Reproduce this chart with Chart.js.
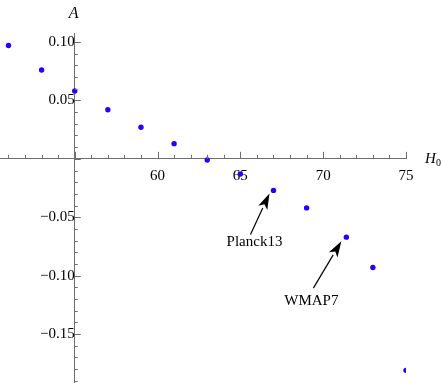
<!DOCTYPE html>
<html>
<head>
<meta charset="utf-8">
<script src="https://cdn.jsdelivr.net/npm/chart.js@4"></script>
<style>
  html, body { margin: 0; padding: 0; background: #fff; overflow: hidden; }
  #wrap { width: 441px; height: 383px; position: relative; overflow: hidden; }
  /* slightly larger than the window so the axes run to the edges like the original */
  #inner { position: absolute; left: -3px; top: 0; width: 444px; height: 397px; }
</style>
</head>
<body>
<div id="wrap"><div id="inner"><canvas id="myChart"></canvas></div></div>
<script>
    // values
    const h0Values = [51, 53, 55, 57, 59, 61, 63, 65, 67, 69, 71.4, 73, 75];
    const aValues = [0.097, 0.076, 0.058, 0.042, 0.027, 0.013, -0.001, -0.013, -0.027, -0.042, -0.067, -0.093, -0.181];
    const xTickLabels = [60, 65, 70, 75];
    const yTickLabels = [0.10, 0.05, -0.05, -0.10, -0.15];
    // annotated points (index into the arrays above)
    const notes = [
        { text: 'Planck13', index: 8 },
        { text: 'WMAP7', index: 10 }
    ];

    const points = h0Values.map((h, i) => ({ x: h, y: aValues[i] }));
    const axisColor = 'rgb(110,110,110)';
    const serif = '"Liberation Serif", "DejaVu Serif", serif';

    const fmt = (v) => {
        const s = Math.abs(v).toFixed(2);
        return v < 0 ? '\u2212' + s : s;
    };

    // Mathematica style tick marks, arrows, axis names
    const extras = {
        id: 'extras',
        afterDraw(chart) {
            const c = chart.ctx;
            const xs = chart.scales.x, ys = chart.scales.y;
            const x0 = xs.getPixelForValue(55), y0 = ys.getPixelForValue(0);
            c.save();
            c.strokeStyle = axisColor;
            c.lineWidth = 1;
            c.beginPath();
            for (let v = Math.ceil(xs.min); v <= Math.floor(xs.max); v++) {
                const px = Math.round(xs.getPixelForValue(v)) + 0.5;
                const len = v % 5 === 0 ? 7 : 4;
                c.moveTo(px, y0);
                c.lineTo(px, y0 - len);
            }
            for (let k = Math.ceil(ys.min * 100); k <= Math.floor(ys.max * 100); k++) {
                const py = Math.round(ys.getPixelForValue(k / 100)) + 0.5;
                const len = k % 5 === 0 ? 6 : 3;
                c.moveTo(x0, py);
                c.lineTo(x0 + len, py);
            }
            c.stroke();

            // axis names
            c.fillStyle = '#000';
            c.font = 'italic 16px ' + serif;
            c.textAlign = 'center';
            c.textBaseline = 'middle';
            c.fillText('A', x0 - 1, 14);
            c.textAlign = 'left';
            c.font = 'italic 15px ' + serif;
            c.fillText('H', xs.right + 19, y0);
            c.font = '10px ' + serif;
            c.fillText('0', xs.right + 30, y0 + 5);

            // arrows + labels
            const offs = [
                { lx: -19, ly: 52, tx: -4, ty: 3, sx: -23, sy: 44 },
                { lx: -35, ly: 64, tx: -5, ty: 4, sx: -33, sy: 51 }
            ];
            c.font = '15px ' + serif;
            c.textAlign = 'center';
            c.textBaseline = 'middle';
            notes.forEach((n, i) => {
                const px = xs.getPixelForValue(h0Values[n.index]);
                const py = ys.getPixelForValue(aValues[n.index]);
                const o = offs[i];
                const tipX = px + o.tx, tipY = py + o.ty;
                const tailX = px + o.sx, tailY = py + o.sy;
                const ang = Math.atan2(tipY - tailY, tipX - tailX);
                const hl = 16, hw = 5;
                const bx = tipX - hl * Math.cos(ang), by = tipY - hl * Math.sin(ang);
                c.strokeStyle = '#000';
                c.lineWidth = 1.2;
                c.beginPath();
                c.moveTo(tailX, tailY);
                c.lineTo(bx, by);
                c.stroke();
                c.fillStyle = '#000';
                c.beginPath();
                c.moveTo(tipX, tipY);
                c.lineTo(bx + hw * Math.sin(ang), by - hw * Math.cos(ang));
                c.lineTo(tipX - (hl - 4) * Math.cos(ang), tipY - (hl - 4) * Math.sin(ang));
                c.lineTo(bx - hw * Math.sin(ang), by + hw * Math.cos(ang));
                c.closePath();
                c.fill();
                c.fillText(n.text, px + o.lx, py + o.ly);
            });
            c.restore();
        }
    };

    const ctx = document.getElementById('myChart').getContext('2d');
    const chart = new Chart(ctx, {
        type: 'scatter',
        data: {
            datasets: [{
                data: points,
                backgroundColor: 'rgb(40,0,255)',
                borderWidth: 0,
                pointRadius: 2.7,
                pointHoverRadius: 2.7
            }]
        },
        options: {
            responsive: true,
            maintainAspectRatio: false,
            animation: false,
            events: [],
            layout: { padding: { left: 0, right: 35, top: 33, bottom: 0 } },
            plugins: {
                legend: { display: false },
                title: { display: false },
                tooltip: { enabled: false }
            },
            scales: {
                x: {
                    type: 'linear',
                    position: { y: 0 },
                    min: 50.47,
                    max: 75,
                    grid: { display: false, drawTicks: false },
                    border: { display: true, color: axisColor, width: 1 },
                    ticks: {
                        stepSize: 1,
                        includeBounds: false,
                        autoSkip: false,
                        maxRotation: 0,
                        padding: 8,
                        color: '#000',
                        font: { family: serif, size: 15 },
                        callback: (v) => xTickLabels.includes(v) ? String(v) : null
                    }
                },
                y: {
                    type: 'linear',
                    position: { x: 55 },
                    min: -0.1927,
                    max: 0.1077,
                    grid: { display: false, drawTicks: false },
                    border: { display: true, color: axisColor, width: 1 },
                    ticks: {
                        stepSize: 0.01,
                        includeBounds: false,
                        autoSkip: false,
                        padding: 4,
                        color: '#000',
                        font: { family: serif, size: 15 },
                        callback: (v) => yTickLabels.some(t => Math.abs(t - v) < 1e-6) ? fmt(v) : null
                    }
                }
            }
        },
        plugins: [extras]
    });
</script>
</body>
</html>
